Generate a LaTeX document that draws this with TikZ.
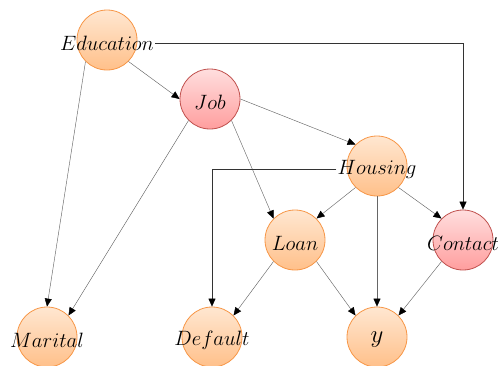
\documentclass[tikz,border=0pt]{standalone}
\usetikzlibrary{arrows.meta,calc}

\definecolor{orTop}{RGB}{255,231,209}
\definecolor{orBot}{RGB}{255,192,138}
\definecolor{orLine}{RGB}{247,150,70}
\definecolor{rdTop}{RGB}{255,222,222}
\definecolor{rdBot}{RGB}{255,158,158}
\definecolor{rdLine}{RGB}{192,80,77}

\begin{document}
\begin{tikzpicture}[x=1pt, y=-1pt]%
        \tikzstyle{var}=[circle, minimum size=60pt, inner sep=0pt, line width=0.8pt, draw=orLine, top color=orTop, bottom color=orBot];%
        \tikzstyle{hot}=[var, draw=rdLine, top color=rdTop, bottom color=rdBot];%
        \tikzstyle{txt}=[font=\fontsize{20.74}{24}\selectfont, inner sep=1pt, yshift=-3pt];%
        \tikzstyle{dep}=[-{Triangle[length=8pt, width=7pt, color=black]}, draw=black!60, line width=0.45pt];%
        \useasboundingbox (0, 0) rectangle (498, 365);

        \node[var, label={[txt, name=edut]center:$Education$}] (edu) at (107, 40) {};
        \node[hot, label={[txt, name=jobt]center:$Job$}] (job) at (210, 99) {};
        \node[var, label={[txt, name=hout]center:$Housing$}] (hou) at (377, 166) {};
        \node[var, label={[txt, name=loat]center:$Loan$}] (loa) at (295, 240) {};
        \node[hot, label={[txt, name=cont]center:$Contact$}] (con) at (463, 240) {};

        \node[var, label={[txt, name=mart]center:$Marital$}] (mar) at (47, 337) {};
        \node[var, label={[txt, name=deft]center:$Default$}] (def) at (212, 337) {};
        \node[var, label={[txt, font=\fontsize{29.86}{34}\selectfont, name=yvt]center:$y$}] (yv) at (377, 337) {};

        \draw (edu.315) edge[dep] (job.west);
        \draw (edu.225) edge[dep] (mar.north);
        \draw[dep, draw=black!80] (edut.east) -| (con);

        \draw (job.east) edge[dep] (hou.135);
        \draw (job.315) edge[dep] (loa.135);
        \draw (job.225) edge[dep] (mar.45);

        \draw[dep, draw=black!80] (hout.west) -| (def);
        \draw (hou.225) edge[dep] (loa.45);
        \draw (hou.315) edge[dep] (con.135);
        \draw (hou.south) edge[dep] (yv.north);

        \draw (loa.225) edge[dep] (def.45);
        \draw (loa.315) edge[dep] (yv.135);
        \draw (con.225) edge[dep] (yv.45);
    \end{tikzpicture}
\end{document}
